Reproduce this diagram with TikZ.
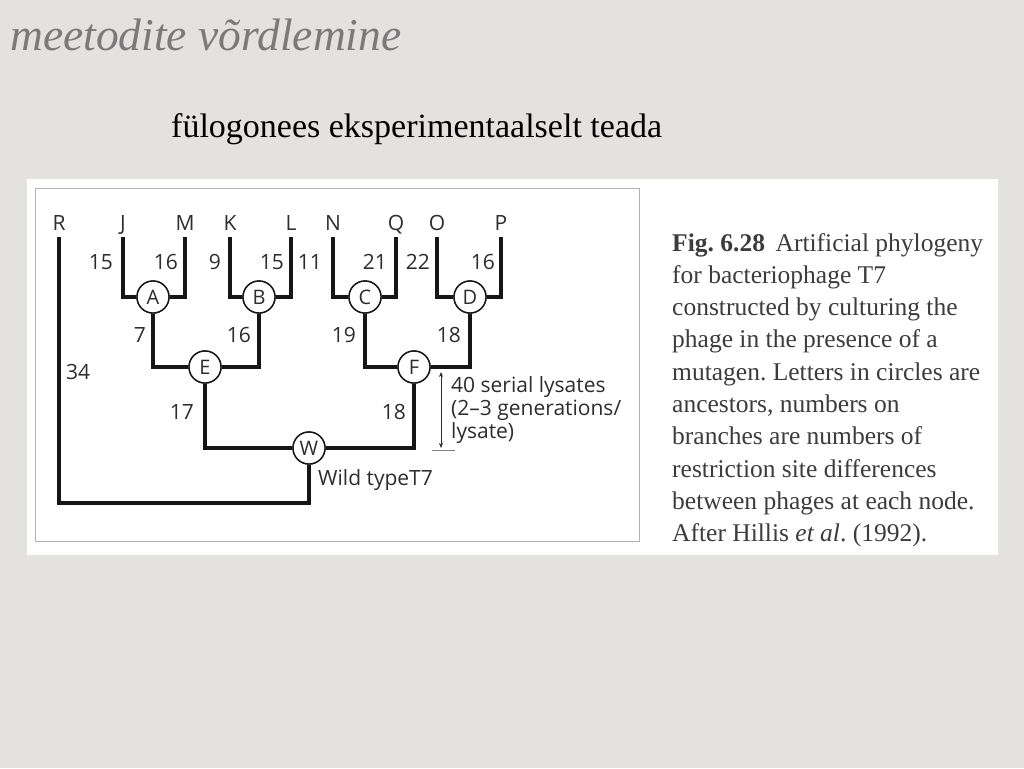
\documentclass[tikz,border=0pt]{standalone}
\usepackage{fontspec}
\setmainfont{Liberation Serif}
\newfontfamily\dia{Open Sans}
\usetikzlibrary{arrows.meta}
\definecolor{bgc}{RGB}{227,226,222}
\definecolor{titc}{RGB}{122,122,122}
\definecolor{diat}{RGB}{45,45,45}
\definecolor{capc}{RGB}{60,60,60}
\definecolor{brc}{RGB}{22,22,22}
\tikzset{
  br/.style={draw=brc, line width=4.5pt, line join=miter},
  anc/.style={circle, draw=brc, line width=1.4pt, fill=white, minimum size=32pt, inner sep=0pt, text=diat, font=\dia\fontsize{20}{22}\selectfont},
  tip/.style={anchor=base, inner sep=0pt, text=diat, font=\dia\fontsize{21}{24}\selectfont},
  num/.style={inner sep=0pt, text=diat, font=\dia\fontsize{21}{24}\selectfont},
  captxt/.style={anchor=base west, inner sep=0pt, text=capc, font=\fontsize{25.5}{30}\selectfont},
}
\begin{document}
\frenchspacing
\begin{tikzpicture}[x=1pt,y=-1pt]
\useasboundingbox (0,0) rectangle (1024,768);
\fill[bgc] (0,0) rectangle (1024,768);
% title
\node[anchor=base west, inner sep=0pt, text=titc, font=\fontsize{45.5}{50}\selectfont\itshape] (title) at (10,50) {meetodite võrdlemine};
\node[anchor=base west, inner sep=0pt, text=black, font=\fontsize{34}{40}\selectfont] (sub) at (171,137) {fülogonees eksperimentaalselt teada};
% panels
\fill[white] (27,179) rectangle (998,555);
\draw[gray!60, line width=1pt] (35,188) rectangle (639,541);
% tip labels
\foreach \n/\x in {R/59,J/123,M/185,K/230,L/291,N/333,Q/396,O/437,P/501}{
  \node[tip] (\n) at (\x,230) {\n};
  \coordinate (t\n) at (\x,237);
}
% ancestor circles
\node[anc] (A) at (153,297) {A};
\node[anc] (B) at (259,297) {B};
\node[anc] (C) at (365,297) {C};
\node[anc] (D) at (470,297) {D};
\node[anc] (E) at (205,367) {E};
\node[anc] (F) at (414,367) {F};
\node[anc] (W) at (309,448) {W};
\coordinate (cW) at (309,503);
% branches
\draw[br] (tJ) |- (A);
\draw[br] (tM) |- (A);
\draw[br] (tK) |- (B);
\draw[br] (tL) |- (B);
\draw[br] (tN) |- (C);
\draw[br] (tQ) |- (C);
\draw[br] (tO) |- (D);
\draw[br] (tP) |- (D);
\draw[br] (A) |- (E);
\draw[br] (B) |- (E);
\draw[br] (C) |- (F);
\draw[br] (D) |- (F);
\draw[br] (E) |- (W);
\draw[br] (F) |- (W);
\draw[br] (tR) |- (cW) -- (W);
% redraw circles on top
\node[anc] at (A) {A};
\node[anc] at (B) {B};
\node[anc] at (C) {C};
\node[anc] at (D) {D};
\node[anc] at (E) {E};
\node[anc] at (F) {F};
\node[anc] at (W) {W};
% branch numbers
\node[num, anchor=east] (n1) at (113,262) {15};
\node[num, anchor=east] (n2) at (178,262) {16};
\node[num, anchor=east] (n3) at (221,262) {9};
\node[num, anchor=east] (n4) at (284,262) {15};
\node[num, anchor=east] (n5) at (322,262) {11};
\node[num, anchor=east] (n6) at (387,262) {21};
\node[num, anchor=east] (n7) at (430,262) {22};
\node[num, anchor=east] (n8) at (495,262) {16};
\node[num, anchor=east] (n9) at (146,335) {7};
\node[num, anchor=east] (n10) at (251,335) {16};
\node[num, anchor=east] (n11) at (356,335) {19};
\node[num, anchor=east] (n12) at (461,335) {18};
\node[num, anchor=west] (n13) at (66,372) {34};
\node[num, anchor=east] (n14) at (194,412) {17};
\node[num, anchor=east] (n15) at (406,412) {18};
% lysate arrow
\coordinate (aT) at (441,372);
\coordinate (aB) at (441,448);
\coordinate (k1) at (432,450);
\coordinate (k2) at (455,450);
\draw[diat, line width=0.7pt, {Stealth[length=5pt,width=4pt]}-{Stealth[length=5pt,width=4pt]}] (aT) -- (aB);
\draw[gray, line width=0.7pt] (k1) -- (k2);
\node[num, anchor=base west] (ly1) at (451,392) {40 serial lysates};
\node[num, anchor=base west] (ly2) at (451,415) {(2–3 generations/};
\node[num, anchor=base west] (ly3) at (451,438) {lysate)};
\node[num, anchor=west] (wt) at (318,480) {Wild typeT7};
% caption
\node[captxt] (c1) at (672,251) {\textbf{Fig. 6.28}\ \,Artificial phylogeny};
\node[captxt] (c2) at (672,283.3) {for bacteriophage T7};
\node[captxt] (c3) at (672,315.6) {constructed by culturing the};
\node[captxt] (c4) at (672,347.9) {phage in the presence of a};
\node[captxt] (c5) at (672,380.2) {mutagen. Letters in circles are};
\node[captxt] (c6) at (672,412.5) {ancestors, numbers on};
\node[captxt] (c7) at (672,444.8) {branches are numbers of};
\node[captxt] (c8) at (672,477.1) {restriction site differences};
\node[captxt] (c9) at (672,509.4) {between phages at each node.};
\node[captxt] (c10) at (672,541.7) {After Hillis \textit{et al}. (1992).};
\end{tikzpicture}
\end{document}
